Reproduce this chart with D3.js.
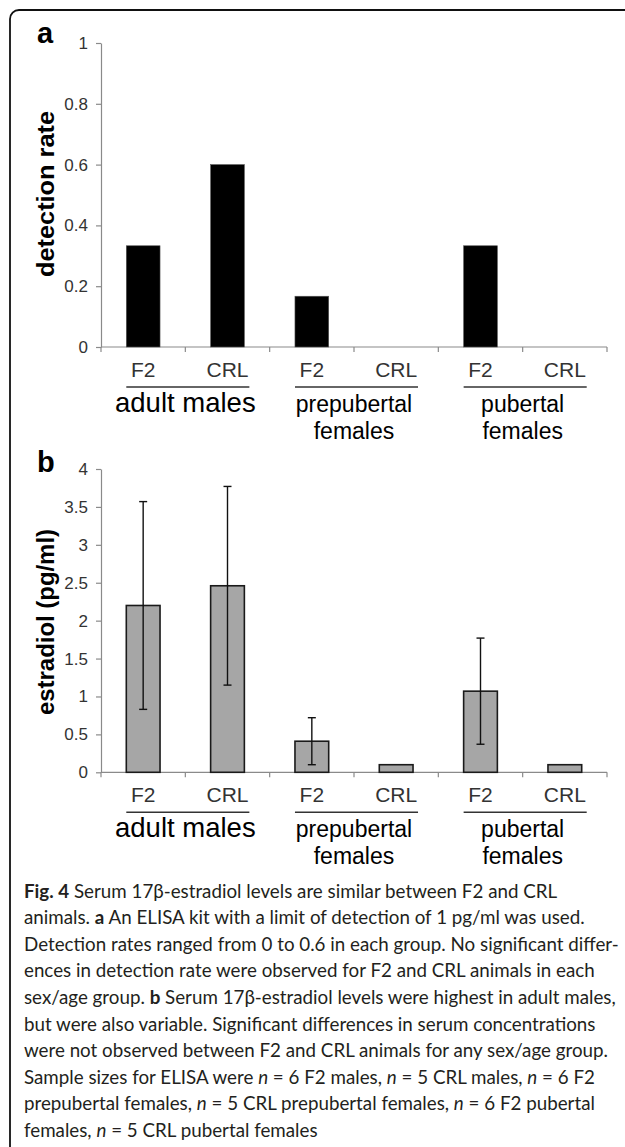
<!DOCTYPE html>
<meta charset="utf-8">
<script src="https://d3js.org/d3.v7.min.js"></script>
<body style="margin:0;background:#fff">
<svg width="625" height="1147"></svg>
<script>
// groups and bars, left to right
var groupLines = [["adult males"], ["prepubertal", "females"], ["pubertal", "females"]];
var strains = ["F2", "CRL", "F2", "CRL", "F2", "CRL"];
var detectionRate = [0.333, 0.6, 0.167, 0, 0.333, 0];
var estradiolMean = [2.2, 2.46, 0.41, 0.1, 1.07, 0.1];
var estradiolErr = [1.37, 1.31, 0.31, 0, 0.7, 0];
var rateTicks = [0, 0.2, 0.4, 0.6, 0.8, 1];
var estradiolTicks = [0, 0.5, 1, 1.5, 2, 2.5, 3, 3.5, 4];

var caption = [
  [["Fig. 4", "b"], [" Serum 17β-estradiol levels are similar between F2 and CRL", ""]],
  [["animals. ", ""], ["a", "b"], [" An ELISA kit with a limit of detection of 1 pg/ml was used.", ""]],
  [["Detection rates ranged from 0 to 0.6 in each group. No significant differ-", ""]],
  [["ences in detection rate were observed for F2 and CRL animals in each", ""]],
  [["sex/age group. ", ""], ["b", "b"], [" Serum 17β-estradiol levels were highest in adult males,", ""]],
  [["but were also variable. Significant differences in serum concentrations", ""]],
  [["were not observed between F2 and CRL animals for any sex/age group.", ""]],
  [["Sample sizes for ELISA were ", ""], ["n", "i"], [" = 6 F2 males, ", ""], ["n", "i"], [" = 5 CRL males, ", ""], ["n", "i"], [" = 6 F2", ""]],
  [["prepubertal females, ", ""], ["n", "i"], [" = 5 CRL prepubertal females, ", ""], ["n", "i"], [" = 6 F2 pubertal", ""]],
  [["females, ", ""], ["n", "i"], [" = 5 CRL pubertal females", ""]]
];

var svg = d3.select("svg");
var font = "'Liberation Sans', Arial, sans-serif";

// frame
svg.append("rect")
    .attr("x", 10).attr("y", 10)
    .attr("width", 700).attr("height", 1300)
    .attr("rx", 9)
    .attr("fill", "none")
    .attr("stroke", "#111")
    .attr("stroke-width", 1.8);

var x = d3.scaleBand()
    .domain(d3.range(strains.length))
    .range([101, 607])
    .paddingInner(0.6)
    .paddingOuter(0.3);

function panel(opt) {
  var g = svg.append("g");
  var y = d3.scaleLinear().domain([0, opt.ticks[opt.ticks.length - 1]]).range(opt.range);
  var y0 = y(0);

  g.append("g")
      .attr("transform", "translate(101,0)")
      .call(d3.axisLeft(y).tickValues(opt.ticks).tickSize(5).tickSizeOuter(0).tickPadding(8).tickFormat(d3.format("")))
      .call(function(a) {
        a.selectAll("path, line").attr("stroke", "#8a8a8a").attr("stroke-width", 1.2);
        a.selectAll("text").attr("font-family", font).attr("font-size", 17).attr("fill", "#333");
      });

  // x axis with ticks at category boundaries
  g.append("line")
      .attr("x1", x.range()[0]).attr("x2", x.range()[1])
      .attr("y1", y0).attr("y2", y0)
      .attr("stroke", "#8a8a8a").attr("stroke-width", 1.2);
  g.selectAll(".xt").data(d3.range(strains.length + 1)).enter().append("line")
      .attr("x1", function(i) { return x.range()[0] + i * x.step(); })
      .attr("x2", function(i) { return x.range()[0] + i * x.step(); })
      .attr("y1", y0).attr("y2", y0 + 5)
      .attr("stroke", "#8a8a8a").attr("stroke-width", 1.2);

  g.selectAll(".bar").data(opt.values).enter().append("rect")
      .attr("x", function(d, i) { return x(i); })
      .attr("width", x.bandwidth())
      .attr("y", function(d) { return y(d); })
      .attr("height", function(d) { return y0 - y(d); })
      .attr("fill", opt.fill)
      .attr("stroke", opt.stroke)
      .attr("stroke-width", opt.strokeWidth);

  if (opt.errors) {
    opt.values.forEach(function(v, i) {
      var e = opt.errors[i];
      if (!e) return;
      var cx = x(i) + x.bandwidth() / 2;
      var eg = g.append("g").attr("stroke", "#111").attr("stroke-width", 1.4);
      eg.append("line").attr("x1", cx).attr("x2", cx).attr("y1", y(v - e)).attr("y2", y(v + e));
      [v - e, v + e].forEach(function(t) {
        eg.append("line").attr("x1", cx - 4).attr("x2", cx + 4).attr("y1", y(t)).attr("y2", y(t));
      });
    });
  }

  // strain labels
  g.selectAll(".st").data(strains).enter().append("text")
      .attr("x", function(d, i) { return x(i) + x.bandwidth() / 2; })
      .attr("y", y0 + 30)
      .attr("text-anchor", "middle")
      .attr("font-family", font).attr("font-size", 21).attr("fill", "#333")
      .text(function(d) { return d; });

  groupLines.forEach(function(lines, gi) {
    var a = gi * 2, b = gi * 2 + 1;
    g.append("line")
        .attr("x1", x(a)).attr("x2", x(b) + x.bandwidth() + 5)
        .attr("y1", y0 + 40).attr("y2", y0 + 40)
        .attr("stroke", "#333").attr("stroke-width", 1.4);
    var cx = x.range()[0] + (a + 1) * x.step();
    lines.forEach(function(t, li) {
      g.append("text")
          .attr("x", cx).attr("y", y0 + 65 + li * 27)
          .attr("text-anchor", "middle")
          .attr("font-family", font)
          .attr("font-size", lines.length === 1 ? 27.5 : 23)
          .attr("fill", "#000")
          .text(t);
    });
  });

  g.append("text")
      .attr("transform", "translate(54," + opt.labelY + ") rotate(-90)")
      .attr("text-anchor", "middle")
      .attr("font-family", font).attr("font-weight", "bold").attr("font-size", 24)
      .attr("textLength", opt.labelLen).attr("lengthAdjust", "spacingAndGlyphs")
      .attr("fill", "#000")
      .text(opt.label);

  g.append("text")
      .attr("x", 37).attr("y", opt.letterY)
      .attr("font-family", font).attr("font-weight", "bold").attr("font-size", 29)
      .attr("fill", "#000")
      .text(opt.letter);
}

panel({ values: detectionRate, ticks: rateTicks, range: [347, 43], fill: "#000", stroke: "#555", strokeWidth: 0.6,
        label: "detection rate", labelY: 194, labelLen: 166, letter: "a", letterY: 43 });
panel({ values: estradiolMean, errors: estradiolErr, ticks: estradiolTicks, range: [772.3, 469], fill: "#a6a6a6", stroke: "#1a1a1a", strokeWidth: 1.6,
        label: "estradiol (pg/ml)", labelY: 622, labelLen: 186, letter: "b", letterY: 472 });

// caption
var cap = svg.append("g").attr("font-family", "Lato, 'Open Sans', sans-serif").attr("font-size", 18.5).attr("fill", "#231f20");
var capLines = cap.selectAll("text").data(caption).enter().append("text")
    .attr("x", 0)
    .attr("y", function(d, i) { return 897.7 + i * 26.6; });
capLines.selectAll("tspan").data(function(d) { return d; }).enter().append("tspan")
    .attr("font-weight", function(d) { return d[1] === "b" ? "bold" : null; })
    .attr("font-style", function(d) { return d[1] === "i" ? "italic" : null; })
    .style("white-space", "pre")
    .text(function(d) { return d[0]; });
var w = capLines.nodes()[4].getComputedTextLength();
cap.attr("transform", "translate(24,0) scale(" + (592 / w) + ",1)");
</script>
</body>
